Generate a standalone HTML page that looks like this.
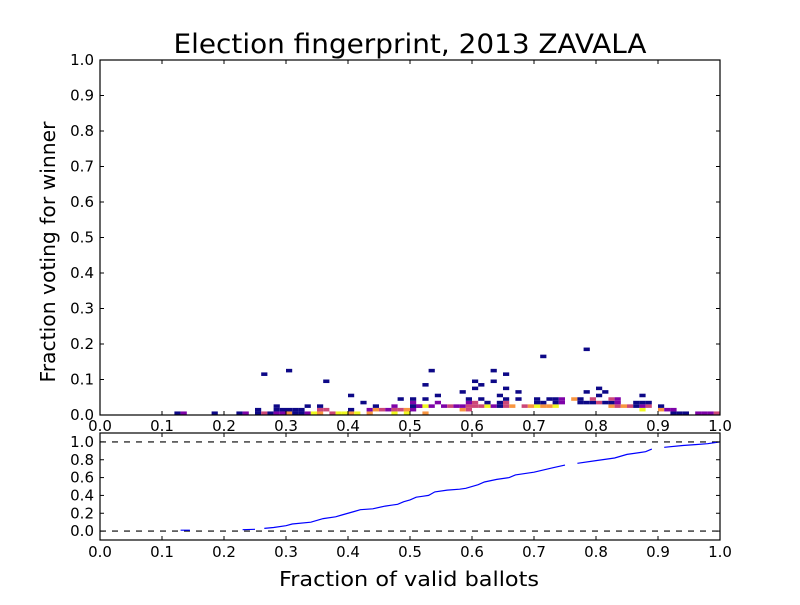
<!DOCTYPE html>
<html><head><meta charset="utf-8"><style>
body{margin:0;background:#fff;width:800px;height:600px;overflow:hidden}
svg text{font-family:"DejaVu Sans","Liberation Sans",sans-serif;fill:#000}
</style></head><body>
<svg id="chart" width="800" height="600" viewBox="0 0 800 600" xmlns="http://www.w3.org/2000/svg">
<rect x="0" y="0" width="800" height="600" fill="#fff"/>
<text x="410" y="53" font-size="27" text-anchor="middle" textLength="473" lengthAdjust="spacingAndGlyphs">Election fingerprint, 2013 ZAVALA</text>
<text transform="translate(55,252) rotate(-90)" font-size="20" text-anchor="middle" textLength="261" lengthAdjust="spacingAndGlyphs">Fraction voting for winner</text>
<text x="409" y="586" font-size="20" text-anchor="middle" textLength="260" lengthAdjust="spacingAndGlyphs">Fraction of valid ballots</text>
<g id="heat"></g>
<g id="cdf"></g>
<g id="axes"></g>
</svg>
<script>
// Heatmap cells: x bin index (0.01 wide), y bin index (0.01 tall), colour level 1..5
const cellX = [12,13,18,22,23,25,26,27,28,29,30,31,32,33,34,35,37,38,39,40,41,43,47,49,
 25,28,29,30,31,32,35,36,40,43,44,45,46,47,48,49,50,
 28,33,35,44,47,50,51, 42,50, 48,50, 40, 26,30,36,
 52,92,93,94,96,97,98,99,
 58,59,87,90,91,92,
 50,51,52,53,55,56,57,58,59,60,61,62,63,64,65,66,68,69,70,71,72,73,82,83,84,85,86,87,88,90,
 54,59,60,62,64,65,70,71,73,74,77,78,79,80,81,82,83,86,87,88,
 52,59,61,65,67,70,72,73,74,76,77,79,82,83,
 54,64,80,87, 58,67,78,81, 60,65,80, 52,61, 60,63, 65, 53,63, 71, 78];
const cellY = [0,0,0,0,0,0,0,0,0,0,0,0,0,0,0,0,0,0,0,0,0,0,0,0,
 1,1,1,1,1,1,1,1,1,1,1,1,1,1,1,1,1,
 2,2,2,2,2,2,2, 3,3, 4,4, 5, 11,12,9,
 0,0,0,0,0,0,0,0,
 1,1,1,1,1,1,
 2,2,2,2,2,2,2,2,2,2,2,2,2,2,2,2,2,2,2,2,2,2,2,2,2,2,2,2,2,2,
 3,3,3,3,3,3,3,3,3,3,3,3,3,3,3,3,3,3,3,3,
 4,4,4,4,4,4,4,4,4,4,4,4,4,4,
 5,5,5,5, 6,6,6,6, 7,7,7, 8,8, 9,9, 11, 12,12, 16, 18];
const cellLevel = [1,2,1,1,2,1,3,1,2,2,4,1,1,2,5,4,3,5,5,4,5,4,5,5,
 1,1,1,1,1,1,3,3,1,2,4,3,2,3,3,4,2,
 1,1,1,1,2,1,2, 1,2, 1,1, 1, 1,1,1,
 4,1,1,1,2,2,2,3,
 4,3,5,4,2,2,
 1,2,5,2,2,3,2,2,3,3,3,5,2,1,3,4,3,4,5,4,4,5,4,3,4,3,1,2,3,1,
 2,2,3,1,1,3,1,1,1,2,1,1,1,3,1,1,2,1,1,1,
 1,1,1,1,1,1,1,1,2,4,1,3,3,2,
 1,1,1,1, 1,1,1,1, 1,1,1, 1,1, 1,1, 1, 1,1, 1, 1];
// CDF line: x values and cumulative fraction; segments separated by null
const cdfX = [0.13,0.145,null,0.23,0.25,null,0.265,0.28,0.3,0.31,0.34,0.36,0.38,0.39,0.41,0.42,0.44,0.46,0.47,0.48,0.49,0.5,0.51,0.52,0.53,0.54,0.56,0.58,0.59,0.61,0.62,0.64,0.66,0.67,0.7,0.73,0.75,null,0.77,0.8,0.83,0.85,0.87,0.88,0.89,null,0.91,0.94,0.96,0.98,1.0];
const cdfY = [0.01,0.01,null,0.015,0.02,null,0.03,0.04,0.06,0.08,0.1,0.14,0.16,0.18,0.22,0.24,0.25,0.28,0.29,0.3,0.33,0.35,0.38,0.39,0.4,0.44,0.46,0.47,0.48,0.52,0.55,0.58,0.6,0.63,0.66,0.71,0.74,null,0.76,0.79,0.82,0.86,0.88,0.89,0.92,null,0.94,0.96,0.97,0.98,1.0];
const mainTicksY = ["0.0","0.1","0.2","0.3","0.4","0.5","0.6","0.7","0.8","0.9","1.0"];
const xTicks = ["0.0","0.1","0.2","0.3","0.4","0.5","0.6","0.7","0.8","0.9","1.0"];
const cdfTicksY = ["0.0","0.2","0.4","0.6","0.8","1.0"];
const colors = ["#fff","#0d0887","#7e03a8","#cc4778","#f89540","#f0f921"];

const NS="http://www.w3.org/2000/svg";
const L=100,R=720,MT=60,MB=415,BT=433,BB=540;
const sx=v=>L+(R-L)*v;
const sy=v=>MB-(MB-MT)*v;
const by=v=>BB-(BB-BT)*(v+0.1)/1.2;
function mk(tag,attrs,parent){const e=document.createElementNS(NS,tag);for(const k in attrs)e.setAttribute(k,attrs[k]);parent.appendChild(e);return e;}
const heat=document.getElementById('heat');
for(let i=0;i<cellX.length;i++){
  const x0=sx(cellX[i]*0.01),x1=sx((cellX[i]+1)*0.01);
  const y0=sy((cellY[i]+1)*0.01),y1=sy(cellY[i]*0.01);
  const r=mk('rect',{x:x0,y:y0,width:x1-x0,height:y1-y0,fill:colors[cellLevel[i]]},heat);
  
  
}
const cdf=document.getElementById('cdf');
mk('line',{x1:L,x2:R,y1:by(1),y2:by(1),stroke:'#000','stroke-width':1.2,'stroke-dasharray':'6,6'},cdf);
mk('line',{x1:L,x2:R,y1:by(0),y2:by(0),stroke:'#000','stroke-width':1.2,'stroke-dasharray':'6,6'},cdf);
let d='',start=true;
for(let i=0;i<cdfX.length;i++){
  if(cdfX[i]===null){start=true;continue;}
  d+=(start?'M':'L')+sx(cdfX[i]).toFixed(1)+' '+by(cdfY[i]).toFixed(1)+' ';start=false;
}
const p=mk('path',{d:d,fill:'none',stroke:'#0000ff','stroke-width':1.2},cdf);



const ax=document.getElementById('axes');
mk('rect',{x:L,y:MT,width:R-L,height:MB-MT,fill:'none',stroke:'#000','stroke-width':1.2},ax);
mk('rect',{x:L,y:BT,width:R-L,height:BB-BT,fill:'none',stroke:'#000','stroke-width':1.2},ax);
mainTicksY.forEach(t=>{const y=sy(parseFloat(t));
  mk('line',{x1:L,x2:L+4,y1:y,y2:y,stroke:'#000'},ax);mk('line',{x1:R,x2:R-4,y1:y,y2:y,stroke:'#000'},ax);
  const tx=mk('text',{x:L-6,y:y+5,'font-size':15,'text-anchor':'end'},ax);tx.textContent=t;
  
  
});
cdfTicksY.forEach(t=>{const y=by(parseFloat(t));
  mk('line',{x1:L,x2:L+4,y1:y,y2:y,stroke:'#000'},ax);mk('line',{x1:R,x2:R-4,y1:y,y2:y,stroke:'#000'},ax);
  const tx=mk('text',{x:L-6,y:y+5,'font-size':15,'text-anchor':'end'},ax);tx.textContent=t;
  
  
});
xTicks.forEach(t=>{const x=sx(parseFloat(t));
  [[MB,MB-4],[MT,MT+4],[BT,BT+4],[BB,BB-4]].forEach(a=>mk('line',{x1:x,x2:x,y1:a[0],y2:a[1],stroke:'#000'},ax));
  const t1=mk('text',{x:x,y:431,'font-size':15,'text-anchor':'middle'},ax);t1.textContent=t;
  
  
  const t2=mk('text',{x:x,y:557,'font-size':15,'text-anchor':'middle'},ax);t2.textContent=t;
  
  
});
</script>
</body></html>
